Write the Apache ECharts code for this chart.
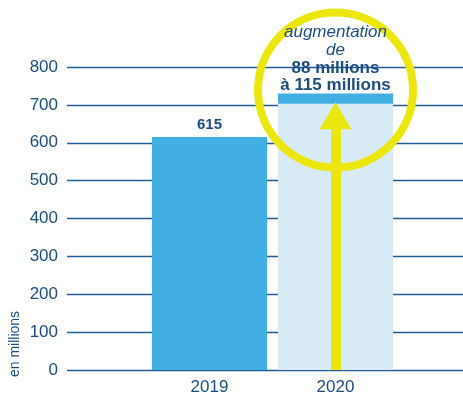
<!DOCTYPE html>
<html>
<head>
<meta charset="utf-8">
<script src="https://cdn.jsdelivr.net/npm/echarts@6/dist/echarts.min.js"></script>
<style>
  html, body { margin: 0; padding: 0; background: #fff; }
  #chart { width: 463px; height: 396px; }
</style>
</head>
<body>
<div id="chart"></div>
<script>
// Passagers (en millions)
const years = ['2019', '2020'];
const base2019 = 615;          // valeur 2019
const increaseLow = 88;        // augmentation minimale
const increaseHigh = 115;      // augmentation maximale
const yTicks = [0, 100, 200, 300, 400, 500, 600, 700, 800];

const navy = '#1c4c80';
const blue = '#42afe2';
const pale = '#d9eaf7';
const yellow = '#ebe60c';
const font = '"Liberation Sans", Arial, Helvetica, sans-serif';

const lowTotal = base2019 + increaseLow;
const highTotal = base2019 + increaseHigh;

const chart = echarts.init(document.getElementById('chart'), null, { renderer: 'canvas' });

const yMin = yTicks[0];
const yMax = yTicks[yTicks.length - 1];
const yStep = yTicks[1] - yTicks[0];

chart.setOption({
  animation: false,
  grid: [
    { left: 67, right: 0, top: 67, bottom: 26 },
    { left: 146.5, right: 64.5, top: 67, bottom: 26 }
  ],
  xAxis: [
    { gridIndex: 0, type: 'category', data: years, show: false },
    {
      gridIndex: 1, type: 'category', data: years,
      axisLine: { show: false }, axisTick: { show: false },
      axisLabel: { color: navy, fontSize: 17, fontFamily: font, margin: 9 }
    }
  ],
  yAxis: [
    {
      gridIndex: 0, type: 'value', min: yMin, max: yMax, interval: yStep,
      axisLine: { show: false }, axisTick: { show: false },
      axisLabel: { color: navy, fontSize: 17, fontFamily: font, margin: 9 },
      splitLine: { show: true, lineStyle: { color: '#235b93', width: 1.4 } }
    },
    {
      gridIndex: 1, type: 'value', min: yMin, max: yMax, interval: yStep,
      show: false, splitLine: { show: false }
    }
  ],
  series: [
    {
      name: 'base',
      type: 'bar',
      xAxisIndex: 1, yAxisIndex: 1,
      stack: 'total',
      barWidth: 115,
      z: 2,
      data: [
        {
          value: base2019,
          itemStyle: { color: blue },
          label: {
            show: true, position: 'top', distance: 5,
            color: navy, fontSize: 15, fontWeight: 'bold', fontFamily: font
          }
        },
        { value: lowTotal, itemStyle: { color: pale } }
      ],
      markLine: {
        silent: true,
        symbol: ['none', 'triangle'],
        symbolSize: [32, 27],
        lineStyle: { color: yellow, width: 10, type: 'solid' },
        label: { show: false },
        z: 5,
        data: [[
          { coord: [years[1], 0] },
          { coord: [years[1], lowTotal - 32] }
        ]]
      }
    },
    {
      name: 'augmentation',
      type: 'bar',
      xAxisIndex: 1, yAxisIndex: 1,
      stack: 'total',
      barWidth: 115,
      z: 2,
      data: ['-', { value: increaseHigh - increaseLow, itemStyle: { color: blue } }],
      markPoint: {
        silent: true,
        symbol: 'circle',
        symbolSize: 155,
        itemStyle: { color: 'rgba(0,0,0,0)', borderColor: yellow, borderWidth: 8 },
        label: { show: false },
        data: [{ coord: [years[1], 739] }]
      }
    }
  ]
});

// Annotation text above the 2020 bar, drawn over the highlight ring
const top2020 = chart.convertToPixel({ xAxisIndex: 1, yAxisIndex: 1 }, [years[1], highTotal]);
const lines = [
  { text: 'augmentation', style: 'italic' },
  { text: 'de', style: 'italic' },
  { text: increaseLow + ' millions', style: 'bold' },
  { text: 'à ' + increaseHigh + ' millions', style: 'bold' }
];
const lineH = 17.6;
chart.setOption({
  graphic: [
    {
      type: 'text',
      x: 15, y: 344,
      rotation: Math.PI / 2,
      style: {
        text: 'en millions',
        fill: navy,
        font: '14px ' + font,
        textAlign: 'center',
        textVerticalAlign: 'middle'
      }
    }
  ].concat(lines.map((l, i) => ({
    type: 'text',
    z: 100,
    x: top2020[0],
    y: top2020[1] - 8 - (lines.length - 1 - i) * lineH,
    style: {
      text: l.text,
      fill: navy,
      font: (l.style === 'italic' ? 'italic 17px ' : 'bold 17px ') + font,
      textAlign: 'center',
      textVerticalAlign: 'middle'
    }
  })))
});
</script>
</body>
</html>
